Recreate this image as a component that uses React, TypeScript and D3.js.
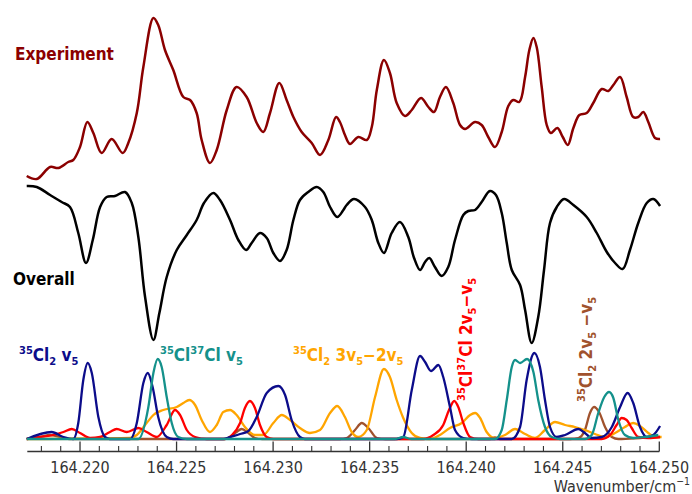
import React from "react";
import * as d3 from "d3";

// ---- Data (wavenumber / cm^-1, intensity in arbitrary units, traces vertically offset) ----
const experiment: [number, number][] = [
  [164.21724,264],[164.21776,261],[164.21845,273],[164.21888,272],[164.21939,278],[164.21965,280],[164.22000,293],[164.22038,318],[164.22069,307],[164.22112,287],[164.22164,301],[164.22221,287],[164.22250,297],[164.22294,327],[164.22328,373],[164.22380,422],[164.22405,415],[164.22440,390],[164.22483,370],[164.22535,343],[164.22570,340],[164.22604,327],[164.22630,300],[164.22673,277],[164.22708,290],[164.22760,330],[164.22811,353],[164.22863,343],[164.22915,317],[164.22949,308],[164.22984,327],[164.23032,357],[164.23070,340],[164.23105,323],[164.23148,308],[164.23200,297],[164.23243,285],[164.23286,300],[164.23326,323],[164.23346,318],[164.23372,305],[164.23398,296],[164.23441,303],[164.23485,300],[164.23511,313],[164.23537,350],[164.23574,380],[164.23605,367],[164.23640,337],[164.23683,324],[164.23718,330],[164.23766,342],[164.23804,333],[164.23833,328],[164.23864,343],[164.23895,353],[164.23933,337],[164.23968,315],[164.23994,311],[164.24046,318],[164.24080,315],[164.24114,303],[164.24149,293],[164.24184,308],[164.24218,334],[164.24244,340],[164.24275,338],[164.24305,363],[164.24327,390],[164.24348,402],[164.24365,393],[164.24391,353],[164.24417,315],[164.24438,307],[164.24472,312],[164.24500,303],[164.24526,295],[164.24555,312],[164.24586,325],[164.24624,327],[164.24658,337],[164.24702,351],[164.24736,349],[164.24762,355],[164.24797,363],[164.24831,343],[164.24865,323],[164.24891,323],[164.24917,328],[164.24943,318],[164.24978,302],[164.25004,301]
];

const overall: [number, number][] = [
  [164.21724,254],[164.21776,253],[164.21845,245],[164.21905,238],[164.21948,233],[164.21991,207],[164.22031,177],[164.22066,200],[164.22104,233],[164.22138,243],[164.22181,244],[164.22233,248],[164.22268,237],[164.22302,203],[164.22337,143],[164.22380,100],[164.22411,127],[164.22449,163],[164.22501,190],[164.22553,205],[164.22604,220],[164.22642,237],[164.22690,247],[164.22725,240],[164.22777,220],[164.22820,200],[164.22860,190],[164.22889,197],[164.22932,207],[164.22967,202],[164.23001,187],[164.23036,179],[164.23070,190],[164.23105,220],[164.23139,240],[164.23182,248],[164.23226,253],[164.23260,248],[164.23295,233],[164.23332,223],[164.23364,230],[164.23381,235],[164.23419,241],[164.23476,233],[164.23511,220],[164.23545,197],[164.23574,187],[164.23614,207],[164.23657,218],[164.23700,203],[164.23730,182],[164.23761,170],[164.23787,178],[164.23809,182],[164.23838,173],[164.23873,164],[164.23907,173],[164.23942,200],[164.23985,225],[164.24011,229],[164.24046,230],[164.24080,238],[164.24123,249],[164.24154,245],[164.24184,227],[164.24210,197],[164.24236,170],[164.24279,155],[164.24305,130],[164.24339,97],[164.24373,123],[164.24403,170],[164.24434,217],[164.24469,233],[164.24507,241],[164.24555,235],[164.24624,223],[164.24676,207],[164.24728,188],[164.24771,177],[164.24810,171],[164.24848,190],[164.24891,217],[164.24935,237],[164.24969,241],[164.25004,234]
];

// 35Cl2 v5
const cl35v5: [number, number][] = [
  [164.21724,1],[164.21853,8],[164.21914,3],[164.21965,1],[164.21991,17],[164.22017,60],[164.22040,77],[164.22061,67],[164.22095,23],[164.22129,3],[164.22155,1],[164.22259,1],[164.22294,17],[164.22328,57],[164.22351,67],[164.22376,53],[164.22405,23],[164.22449,3],[164.22483,1],[164.22742,1],[164.22777,3],[164.22829,6],[164.22872,9],[164.22915,23],[164.22967,47],[164.23027,54],[164.23062,45],[164.23096,20],[164.23139,3],[164.23165,1],[164.23640,1],[164.23674,3],[164.23718,50],[164.23761,84],[164.23787,78],[164.23818,69],[164.23856,75],[164.23881,63],[164.23916,33],[164.23942,10],[164.23985,2],[164.24029,1],[164.24236,1],[164.24279,13],[164.24313,60],[164.24353,87],[164.24382,73],[164.24408,40],[164.24434,13],[164.24469,3],[164.24512,5],[164.24581,11],[164.24615,7],[164.24650,2],[164.24702,3],[164.24754,13],[164.24797,33],[164.24836,47],[164.24865,37],[164.24900,13],[164.24935,3],[164.24969,5],[164.25004,14]
];

// 35Cl37Cl v5
const cl3537v5: [number, number][] = [
  [164.21724,1],[164.22302,1],[164.22354,33],[164.22380,67],[164.22402,81],[164.22423,73],[164.22449,43],[164.22475,17],[164.22509,3],[164.22553,1],[164.23631,1],[164.23674,3],[164.23714,1],[164.24149,1],[164.24184,10],[164.24210,40],[164.24236,73],[164.24253,80],[164.24279,77],[164.24315,81],[164.24348,68],[164.24373,40],[164.24408,13],[164.24443,3],[164.24486,1],[164.24615,1],[164.24650,5],[164.24684,27],[164.24715,43],[164.24740,48],[164.24762,42],[164.24788,20],[164.24822,5],[164.24865,2],[164.24926,3],[164.24995,5]
];

// 35Cl2 3v5-2v5
const cl35hot3: [number, number][] = [
  [164.21724,1],[164.22259,2],[164.22294,5],[164.22345,17],[164.22380,25],[164.22431,30],[164.22501,33],[164.22535,37],[164.22566,40],[164.22596,35],[164.22630,20],[164.22673,8],[164.22708,15],[164.22742,28],[164.22777,30],[164.22811,25],[164.22854,13],[164.22906,5],[164.22949,5],[164.23001,17],[164.23045,25],[164.23088,20],[164.23139,12],[164.23191,7],[164.23243,10],[164.23295,27],[164.23332,34],[164.23372,23],[164.23407,8],[164.23441,3],[164.23485,10],[164.23528,43],[164.23574,71],[164.23605,63],[164.23640,40],[164.23674,22],[164.23718,7],[164.23761,2],[164.23813,1],[164.23864,5],[164.23916,12],[164.23977,17],[164.24020,25],[164.24046,27],[164.24072,22],[164.24106,8],[164.24149,2],[164.24201,5],[164.24253,11],[164.24305,6],[164.24356,2],[164.24408,10],[164.24460,18],[164.24512,15],[164.24563,13],[164.24615,10],[164.24667,6],[164.24719,3],[164.24771,7],[164.24822,13],[164.24865,17],[164.24900,14],[164.24943,7],[164.24978,3],[164.25012,3]
];

// 35Cl37Cl 2v5-v5
const cl3537hot: [number, number][] = [
  [164.21724,1],[164.21793,3],[164.21862,5],[164.21914,8],[164.21957,11],[164.22000,7],[164.22052,2],[164.22104,3],[164.22155,8],[164.22190,11],[164.22242,8],[164.22302,12],[164.22345,8],[164.22397,3],[164.22449,15],[164.22492,30],[164.22518,25],[164.22553,10],[164.22596,3],[164.22656,1],[164.22751,1],[164.22787,5],[164.22829,17],[164.22854,32],[164.22880,39],[164.22906,32],[164.22932,15],[164.22967,3],[164.23001,1],[164.23778,1],[164.23830,5],[164.23881,15],[164.23911,30],[164.23938,39],[164.23959,33],[164.23985,17],[164.24020,3],[164.24063,1],[164.24702,1],[164.24745,5],[164.24779,15],[164.24805,22],[164.24831,20],[164.24857,12],[164.24891,3],[164.24943,2],[164.25004,3]
];

// 35Cl2 2v5-v5
const cl35hot2: [number, number][] = [
  [164.21724,1],[164.21793,3],[164.21845,5],[164.21896,3],[164.21948,1],[164.22751,1],[164.22777,3],[164.22811,8],[164.22837,11],[164.22872,7],[164.22906,2],[164.22943,1],[164.23346,1],[164.23381,2],[164.23424,10],[164.23459,17],[164.23493,12],[164.23537,2],[164.23580,1],[164.24123,1],[164.24149,2.5],[164.24175,1],[164.24538,1],[164.24581,2],[164.24615,10],[164.24641,27],[164.24662,33],[164.24688,28],[164.24719,13],[164.24754,3],[164.24788,1],[164.24900,2],[164.24978,3],[164.25004,3]
];

const majorTicks = [164.22, 164.225, 164.23, 164.235, 164.24, 164.245, 164.25];
const minorTicks = [
  164.218, 164.219, 164.221, 164.222, 164.223, 164.224, 164.226, 164.227, 164.228, 164.229,
  164.231, 164.232, 164.233, 164.234, 164.236, 164.237, 164.238, 164.239, 164.241, 164.242,
  164.243, 164.244, 164.246, 164.247, 164.248, 164.249,
];
const xDomain: [number, number] = [164.21727, 164.25];

const FONT = "'DejaVu Sans Condensed', 'DejaVu Sans', Verdana, sans-serif";

const COLORS = {
  exp: "#8b0000",
  overall: "#000000",
  navy: "#0c0c8a",
  teal: "#14918b",
  orange: "#ffa500",
  red: "#ff0000",
  brown: "#a0522d",
};

type Part = { t: string; k?: "sup" | "sub" };

function Rich({ parts, size, ...rest }: { parts: Part[]; size: number; [k: string]: any }) {
  let cur = 0;
  return (
    <text fontSize={size} fontFamily={FONT} {...rest}>
      {parts.map((p, i) => {
        const target = p.k === "sup" ? -0.4 * size : p.k === "sub" ? 0.24 * size : 0;
        const dy = target - cur;
        cur = target;
        return (
          <tspan key={i} dy={dy} fontSize={p.k ? size * 0.65 : size}>
            {p.t}
          </tspan>
        );
      })}
    </text>
  );
}

export default function App() {
  const W = 692;
  const H = 494;
  const x = d3.scaleLinear().domain(xDomain).range([27.3, 659.3]);
  const y = d3.scaleLinear().domain([0, 430]).range([440, 10]);
  const smooth = d3
    .line<[number, number]>()
    .x((d) => x(d[0]))
    .y((d) => y(d[1]))
    .curve(d3.curveCatmullRom.alpha(0.5));
  const comp = d3
    .line<[number, number]>()
    .x((d) => x(d[0]))
    .y((d) => y(Math.max(0.6, d[1])))
    .curve(d3.curveMonotoneX);

  const axisY = 451.5;
  const sw = 2.3;

  return (
    <svg
      width={W}
      height={H}
      style={{ position: "absolute", left: 0, top: 0, display: "block", background: "#fff" }}
    >
      <rect width={W} height={H} fill="#fff" />
      {/* component curves */}
      <path d={comp(cl35hot2) || ""} fill="none" stroke={COLORS.brown} strokeWidth={sw} />
      <path d={comp(cl35hot3) || ""} fill="none" stroke={COLORS.orange} strokeWidth={sw} />
      <path d={comp(cl3537hot) || ""} fill="none" stroke={COLORS.red} strokeWidth={sw} />
      <path d={comp(cl35v5) || ""} fill="none" stroke={COLORS.navy} strokeWidth={sw} />
      <path d={comp(cl3537v5) || ""} fill="none" stroke={COLORS.teal} strokeWidth={sw} />

      {/* overall and experiment */}
      <path d={smooth(overall) || ""} fill="none" stroke={COLORS.overall} strokeWidth={2.5} />
      <path d={smooth(experiment) || ""} fill="none" stroke={COLORS.exp} strokeWidth={2.5} />

      {/* axis */}
      <line x1={x(xDomain[0])} x2={x(xDomain[1])} y1={axisY} y2={axisY} stroke="#333" strokeWidth={1.3} />
      {majorTicks.map((t) => (
        <line key={"M" + t} x1={x(t)} x2={x(t)} y1={axisY} y2={axisY - 10} stroke="#333" strokeWidth={1.3} />
      ))}
      {minorTicks.map((t) => (
        <line key={"m" + t} x1={x(t)} x2={x(t)} y1={axisY} y2={axisY - 5.5} stroke="#333" strokeWidth={1.1} />
      ))}
      {majorTicks.map((t) => (
        <text
          key={"L" + t}
          x={x(t)}
          y={472.5}
          textAnchor="middle"
          fontFamily={FONT}
          fontSize={16}
          fill="#333"
        >
          {d3.format(".3f")(t)}
        </text>
      ))}
      <Rich
        parts={[{ t: "Wavenumber/cm" }, { t: "−1", k: "sup" }]}
        size={16}
        x={690}
        y={491.5}
        textAnchor="end"
        fill="#333"
      />

      {/* trace labels */}
      <text x={15} y={60} fontFamily={FONT} fontSize={17} fontWeight="bold" fill={COLORS.exp}>
        Experiment
      </text>
      <text x={13} y={285} fontFamily={FONT} fontSize={17} fontWeight="bold" fill="#000">
        Overall
      </text>

      <Rich
        parts={[{ t: "35", k: "sup" }, { t: "Cl" }, { t: "2", k: "sub" }, { t: " v" }, { t: "5", k: "sub" }]}
        size={17}
        x={19}
        y={360.5}
        fontWeight="bold"
        fill={COLORS.navy}
      />
      <Rich
        parts={[{ t: "35", k: "sup" }, { t: "Cl" }, { t: "37", k: "sup" }, { t: "Cl v" }, { t: "5", k: "sub" }]}
        size={17}
        x={160}
        y={360.5}
        fontWeight="bold"
        fill={COLORS.teal}
      />
      <Rich
        parts={[
          { t: "35", k: "sup" },
          { t: "Cl" },
          { t: "2", k: "sub" },
          { t: " 3v" },
          { t: "5", k: "sub" },
          { t: "−2v" },
          { t: "5", k: "sub" },
        ]}
        size={17}
        x={293}
        y={360.5}
        fontWeight="bold"
        fill={COLORS.orange}
      />
      <Rich
        parts={[
          { t: "35", k: "sup" },
          { t: "Cl" },
          { t: "37", k: "sup" },
          { t: "Cl 2v" },
          { t: "5", k: "sub" },
          { t: "−v" },
          { t: "5", k: "sub" },
        ]}
        size={17}
        x={0}
        y={0}
        transform="translate(472,401) rotate(-90)"
        fontWeight="bold"
        fill={COLORS.red}
      />
      <Rich
        parts={[
          { t: "35", k: "sup" },
          { t: "Cl" },
          { t: "2", k: "sub" },
          { t: " 2v" },
          { t: "5", k: "sub" },
          { t: " −v" },
          { t: "5", k: "sub" },
        ]}
        size={17}
        x={0}
        y={0}
        transform="translate(592,402) rotate(-90)"
        fontWeight="bold"
        fill={COLORS.brown}
      />
    </svg>
  );
}
